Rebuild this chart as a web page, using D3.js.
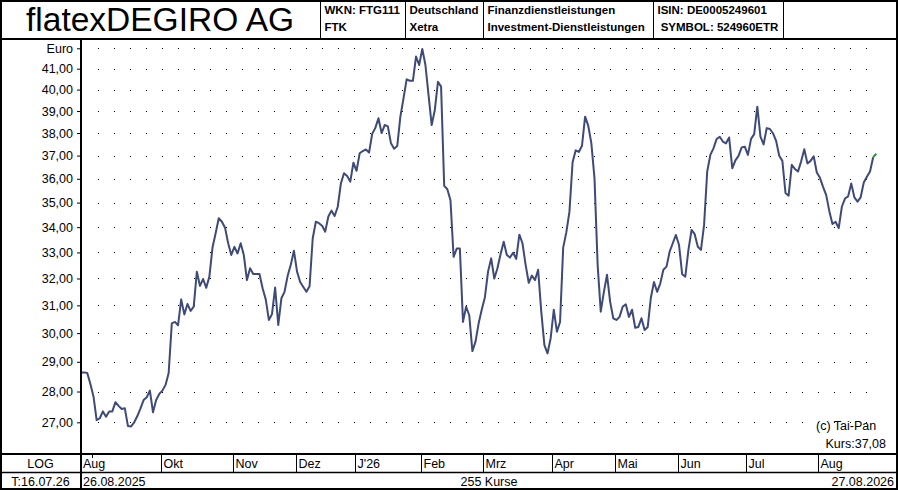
<!DOCTYPE html>
<html>
<head>
<meta charset="utf-8">
<script src="https://cdn.jsdelivr.net/npm/d3@7"></script>
<style>
  body { margin: 0; background: #fff; }
  text { font-family: "Liberation Sans", Arial, sans-serif; fill: #000; }
</style>
</head>
<body>
<script>
// closing prices, one per trading day (26.08.2025 - 27.08.2026)
const prices = [
  28.64, 28.64, 28.62, 28.25, 27.83, 27.07, 27.13, 27.35, 27.18, 27.35,
  27.35, 27.65, 27.53, 27.43, 27.45, 26.88, 26.87, 27.00, 27.20, 27.45,
  27.72, 27.81, 28.03, 27.32, 27.72, 27.92, 28.03, 28.22, 28.62, 30.35,
  30.40, 30.28, 31.22, 30.67, 31.05, 30.80, 30.95, 32.26, 31.72, 31.98,
  31.65, 32.07, 33.19, 33.76, 34.36, 34.22, 33.98, 33.36, 32.90, 33.22,
  32.96, 33.36, 32.90, 31.94, 32.39, 32.17, 32.17, 32.17, 31.63, 31.22,
  30.47, 30.68, 31.66, 30.29, 31.26, 31.50, 32.10, 32.52, 33.07, 32.26,
  31.87, 31.68, 31.50, 31.71, 33.55, 34.22, 34.16, 34.06, 33.82, 34.43,
  34.67, 34.45, 34.83, 35.80, 36.24, 36.12, 35.88, 36.69, 36.34, 37.10,
  37.20, 37.27, 37.13, 37.96, 38.23, 38.67, 38.00, 38.36, 38.30, 37.54,
  37.30, 37.42, 38.74, 39.59, 40.49, 40.42, 40.42, 41.59, 41.18, 41.97,
  41.18, 39.74, 38.36, 39.05, 40.37, 40.14, 35.70, 35.56, 35.10, 32.83,
  33.15, 33.15, 30.40, 30.95, 30.64, 29.37, 29.70, 30.35, 30.85, 31.30,
  32.26, 32.77, 32.00, 32.39, 32.93, 33.42, 32.90, 32.80, 32.99, 32.75,
  33.70, 33.36, 32.52, 31.84, 32.11, 31.94, 32.33, 30.77, 29.58, 29.29,
  29.82, 30.84, 30.05, 30.40, 33.19, 33.79, 34.63, 36.71, 37.23, 37.16,
  37.43, 38.74, 38.33, 37.54, 36.02, 32.52, 30.77, 31.50, 32.14, 31.13,
  30.53, 30.47, 30.58, 30.95, 31.04, 30.58, 30.84, 30.19, 30.22, 30.53,
  30.11, 30.22, 31.28, 31.87, 31.50, 31.81, 32.33, 32.45, 33.03, 33.36,
  33.69, 33.29, 32.16, 32.07, 33.10, 33.89, 33.72, 33.22, 33.10, 34.09,
  36.31, 37.03, 37.32, 37.73, 37.83, 37.62, 37.54, 37.80, 36.45, 36.79,
  36.99, 37.36, 37.39, 37.03, 37.74, 37.95, 39.20, 37.84, 37.49, 38.22,
  38.18, 37.99, 37.65, 36.99, 36.77, 35.40, 35.29, 36.60, 36.42, 36.31,
  36.75, 37.28, 36.66, 36.77, 36.97, 36.27, 36.04, 35.66, 35.31, 34.65,
  34.13, 34.22, 33.96, 34.83, 35.17, 35.26, 35.80, 35.22, 35.04, 35.22,
  35.84, 36.09, 36.31, 36.93, 37.08
];

const firstDay = "2025-08-26";
const lastDay = "2026-08-27";
const holidays = ["2025-12-24", "2025-12-25", "2025-12-26", "2025-12-31",
  "2026-01-01", "2026-04-03", "2026-04-06", "2026-05-01"];

const yTicks = [27, 28, 29, 30, 31, 32, 33, 34, 35, 36, 37, 38, 39, 40, 41, 42];
const monthNames = ["J'26", "Feb", "Mrz", "Apr", "Mai", "Jun", "Jul", "Aug", "Sep", "Okt", "Nov", "Dez"];

const headerCells = [
  ["WKN: FTG111", "FTK"],
  ["Deutschland", "Xetra"],
  ["Finanzdienstleistungen", "Investment-Dienstleistungen"],
  ["ISIN: DE0005249601", " SYMBOL: 524960ETR"]
];

// trading calendar
const fmt = d3.timeFormat("%Y-%m-%d");
const parse = d3.timeParse("%Y-%m-%d");
const dates = d3.timeDay.range(parse(firstDay), d3.timeDay.offset(parse(lastDay), 1))
  .filter(d => d.getDay() !== 0 && d.getDay() !== 6 && !holidays.includes(fmt(d)));

const W = 900, H = 490;
const svg = d3.select("body").append("svg").attr("width", W).attr("height", H);
svg.append("rect").attr("width", W).attr("height", H).attr("fill", "#fff");

const plotLeft = 81, plotRight = 897, headBottom = 39, plotBottom = 454;

const x = d3.scaleLinear().domain([0, prices.length - 1]).range([plotLeft, 876.3]);
const y = d3.scaleLog().domain([27, 41]).range([422.3, 68.7]);

// dotted grid
const dotXs = d3.range(1, 50).map(k => plotLeft + 0.7 + 16 * k);
const grid = svg.append("g").attr("fill", "#000");
yTicks.forEach(v => {
  grid.selectAll(null).data(dotXs).enter().append("rect")
    .attr("x", d => Math.round(d))
    .attr("y", Math.round(y(v)))
    .attr("width", 1).attr("height", 1);
});

// y axis
const yAxis = d3.axisLeft(y)
  .tickValues(yTicks)
  .tickSize(4)
  .tickPadding(4)
  .tickFormat(v => v === 42 ? "Euro" : d3.format(".2f")(v).replace(".", ","));
const ya = svg.append("g").attr("transform", `translate(${plotLeft},0)`).call(yAxis);
ya.select(".domain").remove();
ya.selectAll("text").attr("font-size", 12.5).attr("font-family", "Liberation Sans, Arial, sans-serif").attr("fill", "#000");
ya.selectAll("line").attr("stroke", "#000");

// price line
const n = prices.length;
const line = d3.line().x((d, i) => x(i)).y(d => y(d));
svg.append("path")
  .datum(prices.slice(0, n - 1))
  .attr("fill", "none")
  .attr("stroke", "#3e4a78")
  .attr("stroke-width", 2)
  .attr("stroke-linejoin", "round")
  .attr("d", line);
svg.append("line")
  .attr("x1", x(n - 2)).attr("y1", y(prices[n - 2]))
  .attr("x2", x(n - 1)).attr("y2", y(prices[n - 1]))
  .attr("stroke", "#2f8f3a").attr("stroke-width", 2);

// frame
const frame = svg.append("g").attr("stroke", "#000").attr("fill", "none");
frame.append("rect").attr("x", 1).attr("y", 1).attr("width", plotRight - 1).attr("height", H - 2).attr("stroke-width", 2);
frame.append("line").attr("x1", 0).attr("x2", plotRight).attr("y1", headBottom).attr("y2", headBottom).attr("stroke-width", 2);
frame.append("line").attr("x1", plotLeft).attr("x2", plotLeft).attr("y1", headBottom).attr("y2", H).attr("stroke-width", 2);
frame.append("line").attr("x1", 0).attr("x2", plotRight).attr("y1", plotBottom).attr("y2", plotBottom).attr("stroke-width", 2);
frame.append("line").attr("x1", 0).attr("x2", plotRight).attr("y1", 472.5).attr("y2", 472.5).attr("stroke-width", 1.5);

// header
svg.append("text").attr("x", 26).attr("y", 31).attr("font-size", 33.5).text("flatexDEGIRO AG");
const cellSeps = [320.5, 405.5, 483.5, 653.5, 783.5];
cellSeps.forEach(s => frame.append("line").attr("x1", s).attr("x2", s).attr("y1", 0).attr("y2", headBottom).attr("stroke-width", 1));
headerCells.forEach((c, i) => {
  svg.append("text").attr("x", cellSeps[i] + 4).attr("y", 13.5)
    .attr("font-weight", "bold").attr("font-size", 11.5).text(c[0]);
  svg.append("text").attr("x", cellSeps[i] + 4).attr("y", 31)
    .attr("font-weight", "bold").attr("font-size", 11.5)
    .style("white-space", "pre").text(c[1]);
});

// month row
svg.append("text").attr("x", plotLeft + 2).attr("y", 468).attr("font-size", 12.5)
  .text(monthNames[dates[0].getMonth()]);
let lastLabel = plotLeft;
dates.forEach((d, i) => {
  if (i === 0 || d.getMonth() === dates[i - 1].getMonth()) return;
  const sx = Math.round(x(i) - 1.5) + 0.5;
  if (sx - lastLabel < 20) {
    frame.append("line").attr("x1", sx).attr("x2", sx).attr("y1", plotBottom).attr("y2", plotBottom + 4).attr("stroke-width", 1);
    return;
  }
  frame.append("line").attr("x1", sx).attr("x2", sx).attr("y1", plotBottom).attr("y2", 472).attr("stroke-width", 1);
  svg.append("text").attr("x", sx + 2).attr("y", 468).attr("font-size", 12.5)
    .text(monthNames[d.getMonth()]);
  lastLabel = sx;
});

// bottom texts
const dfmt = d3.timeFormat("%d.%m.%Y");
svg.append("text").attr("x", 40.5).attr("y", 468).attr("text-anchor", "middle").attr("font-size", 12.5).text("LOG");
svg.append("text").attr("x", 40.5).attr("y", 486).attr("text-anchor", "middle").attr("font-size", 12.5).text("T:16.07.26");
svg.append("text").attr("x", 83).attr("y", 486).attr("font-size", 12.5).text(dfmt(dates[0]));
svg.append("text").attr("x", (plotLeft + plotRight) / 2).attr("y", 486).attr("text-anchor", "middle").attr("font-size", 12.5).text(n + " Kurse");
svg.append("text").attr("x", 894).attr("y", 486).attr("text-anchor", "end").attr("font-size", 12.5).text(dfmt(dates[dates.length - 1]));
svg.append("text").attr("x", 816).attr("y", 430).attr("font-size", 12.5).text("(c) Tai-Pan");
svg.append("text").attr("x", 886).attr("y", 448).attr("text-anchor", "end").attr("font-size", 12.5)
  .text("Kurs:" + d3.format(".2f")(prices[n - 1]).replace(".", ","));
</script>
</body>
</html>
